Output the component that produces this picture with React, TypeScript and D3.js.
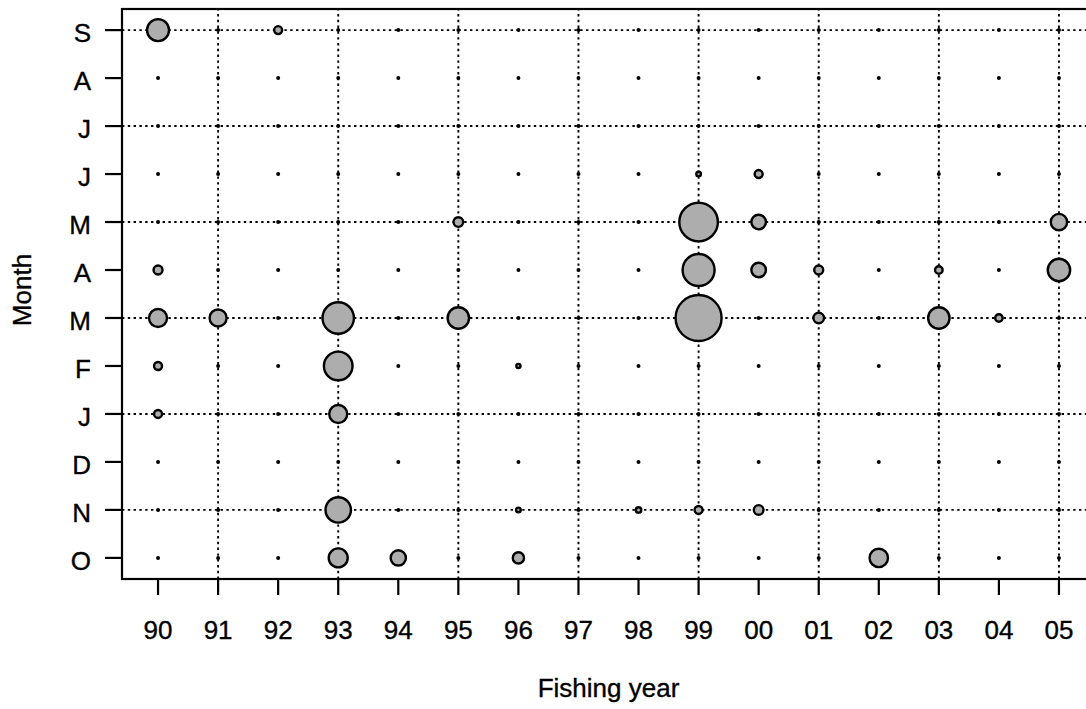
import React from "react";
import * as d3 from "d3";

// Fishing years (x) and months of the fishing year (y, October at the bottom)
const yearLabels = ["90", "91", "92", "93", "94", "95", "96", "97", "98", "99", "00", "01", "02", "03", "04", "05"];
const monthLabels = ["O", "N", "D", "J", "F", "M", "A", "M", "J", "J", "A", "S"];

// Relative catch by month, one value per fishing year (90..05)
const oct = [0, 0, 0, 17, 11, 0, 6, 0, 0, 0, 0, 0, 16, 0, 0, 0];
const nov = [0, 0, 0, 30.5, 0, 0, 1.0, 0, 1.4, 3.0, 4.4, 0, 0, 0, 0, 0];
const dec = [0, 0, 0, 0, 0, 0, 0, 0, 0, 0, 0, 0, 0, 0, 0, 0];
const jan = [3.0, 0, 0, 15.3, 0, 0, 0, 0, 0, 0, 0, 0, 0, 0, 0, 0];
const feb = [3.0, 0, 0, 38.7, 0, 0, 0.8, 0, 0, 0, 0, 0, 0, 0, 0, 0];
const mar = [15.3, 13.7, 0, 46.6, 0, 21.6, 0, 0, 0, 100, 0, 5.3, 0, 21.6, 2.6, 0];
const apr = [3.8, 0, 0, 0, 0, 0, 0, 0, 0, 48.4, 10.1, 3.8, 0, 2.7, 0, 23.7];
const may = [0, 0, 0, 0, 0, 4.4, 0, 0, 0, 70.4, 10.1, 0, 0, 0, 0, 12.7];
const jun = [0, 0, 0, 0, 0, 0, 0, 0, 0, 1.0, 3.0, 0, 0, 0, 0, 0];
const jul = [0, 0, 0, 0, 0, 0, 0, 0, 0, 0, 0, 0, 0, 0, 0, 0];
const aug = [0, 0, 0, 0, 0, 0, 0, 0, 0, 0, 0, 0, 0, 0, 0, 0];
const sep = [23, 0, 3.0, 0, 0, 0, 0, 0, 0, 0, 0, 0, 0, 0, 0, 0];

const monthRows = [oct, nov, dec, jan, feb, mar, apr, may, jun, jul, aug, sep];

const W = 1086;
const H = 709;
const FONT = "'Liberation Sans', Arial, Helvetica, sans-serif";
const FS = 26;

export default function App() {
  const nx = yearLabels.length;
  const ny = monthLabels.length;
  const padX = (nx - 1) * 0.04;
  const padY = (ny - 1) * 0.04;

  const x = d3.scaleLinear().domain([-padX, nx - 1 + padX]).range([122, 1095]);
  const y = d3.scaleLinear().domain([-padY, ny - 1 + padY]).range([579, 9]);
  const r = d3.scaleSqrt().domain([0, 100]).range([0, 23]);

  const [x0, x1] = x.range();
  const [yb, yt] = y.range();

  const cells = monthRows.flatMap((row, mi) =>
    row.map((v, yi) => ({ mi, yi, v }))
  );

  const gridX = d3.range(1, nx, 2);
  const gridY = d3.range(1, ny, 2);

  const textProps = {
    fontSize: FS,
    fill: "#000",
    stroke: "#000",
    strokeWidth: 0.35,
  };

  return (
    <svg
      width={W}
      height={H}
      style={{ position: "absolute", left: 0, top: 0, background: "#fff" }}
      fontFamily={FONT}
    >
      {/* dotted reference grid on alternate years and months */}
      <g stroke="#000" strokeWidth={1.9} strokeDasharray="2.4,3.4" fill="none">
        {gridX.map((i) => (
          <line key={`gx${i}`} x1={x(i)} x2={x(i)} y1={yb} y2={yt} />
        ))}
        {gridY.map((j) => (
          <line key={`gy${j}`} x1={x0} x2={x1} y1={y(j)} y2={y(j)} />
        ))}
      </g>

      {/* plot frame */}
      <rect
        x={x0}
        y={yt}
        width={x1 - x0}
        height={yb - yt}
        fill="none"
        stroke="#000"
        strokeWidth={2.2}
      />

      {/* bubbles: area proportional to catch, dot where nothing was caught */}
      <g>
        {cells.map(({ mi, yi, v }) =>
          v > 0 ? (
            <circle
              key={`c${mi}-${yi}`}
              cx={x(yi)}
              cy={y(mi)}
              r={r(v)}
              fill="#adadad"
              stroke="#000"
              strokeWidth={2.4}
            />
          ) : (
            <circle key={`c${mi}-${yi}`} cx={x(yi)} cy={y(mi)} r={2} fill="#000" />
          )
        )}
      </g>

      {/* y axis */}
      <g>
        {monthLabels.map((m, j) => (
          <g key={`yt${j}`}>
            <line x1={x0 - 17} x2={x0} y1={y(j)} y2={y(j)} stroke="#000" strokeWidth={2.2} />
            <text x={91} y={y(j) + 12} textAnchor="end" {...textProps}>
              {m}
            </text>
          </g>
        ))}
      </g>

      {/* x axis */}
      <g>
        {yearLabels.map((lab, i) => (
          <g key={`xt${i}`}>
            <line x1={x(i)} x2={x(i)} y1={yb} y2={yb + 16} stroke="#000" strokeWidth={2.2} />
            <text x={x(i)} y={639} textAnchor="middle" {...textProps}>
              {lab}
            </text>
          </g>
        ))}
      </g>

      <text x={(x0 + x1) / 2} y={697} textAnchor="middle" {...textProps}>
        Fishing year
      </text>
      <text
        transform={`translate(31,${(yb + yt) / 2 - 4}) rotate(-90)`}
        textAnchor="middle"
        {...textProps}
      >
        Month
      </text>
    </svg>
  );
}
